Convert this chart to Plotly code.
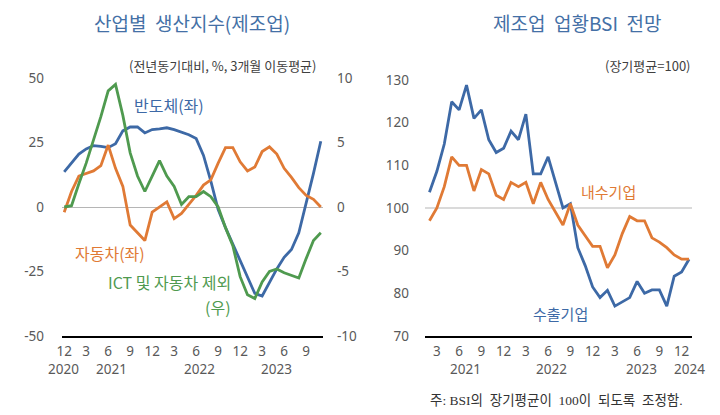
import plotly.graph_objects as go

# ---------------- Left panel data (2020-12 .. 2023-11) ----------------
months_left = [
    "2020-12", "2021-01", "2021-02", "2021-03", "2021-04", "2021-05", "2021-06",
    "2021-07", "2021-08", "2021-09", "2021-10", "2021-11", "2021-12",
    "2022-01", "2022-02", "2022-03", "2022-04", "2022-05", "2022-06",
    "2022-07", "2022-08", "2022-09", "2022-10", "2022-11", "2022-12",
    "2023-01", "2023-02", "2023-03", "2023-04", "2023-05", "2023-06",
    "2023-07", "2023-08", "2023-09", "2023-10", "2023-11",
]
semiconductor = [13.6, 17, 20.5, 22.5, 23.8, 23.5, 23, 24.5, 29.5, 31, 31, 28.7,
                 30, 30.3, 30.7, 30, 29, 28, 26.5, 20, 10, -1,
                 -8, -14.5, -21, -27.5, -33.5, -34.5, -29, -24, -19.5, -16.5,
                 -10, 1, 13, 25.5]
automobile = [-2, 6, 12, 13, 14, 16, 24, 15, 8, -7, -10, -13,
              -2, 0, 2, -4.5, -2.5, 1, 4.5, 8.5, 10.5, 17,
              23, 23, 17.5, 14, 15.5, 21.5, 23.3, 20.5, 15, 11.5,
              7.5, 4.5, 3, 0]
ex_ict_auto = [0, 0.1, 1.8, 3.4, 5.2, 7, 9, 9.5, 7.1, 4.2, 2.4, 1.2,
               2.4, 3.6, 2.4, 1.6, 0.2, 0.8, 0.8, 1.2, 0.8, 0,
               -1.6, -3, -5.4, -6.8, -7.1, -5.8, -5, -4.8, -5.1, -5.3,
               -5.5, -4, -2.6, -2]
left_tickvals = ["2020-12", "2021-03", "2021-06", "2021-09", "2021-12", "2022-03",
                 "2022-06", "2022-09", "2022-12", "2023-03", "2023-06", "2023-09"]
left_ticktext = ["12", "3", "6", "9", "12", "3", "6", "9", "12", "3", "6", "9"]
left_years = ["2020", "2021", "2022", "2023"]
left_y_vals = [-50, -25, 0, 25, 50]
left_y_text = ["-50", "-25", "0", "25", "50"]
right_y_vals = [-10, -5, 0, 5, 10]
right_y_text = ["-10", "-5", "0", "5", "10"]

# ---------------- Right panel data (2021-02 .. 2024-01) ----------------
months_right = [
    "2021-02", "2021-03", "2021-04", "2021-05", "2021-06", "2021-07",
    "2021-08", "2021-09", "2021-10", "2021-11", "2021-12",
    "2022-01", "2022-02", "2022-03", "2022-04", "2022-05", "2022-06",
    "2022-07", "2022-08", "2022-09", "2022-10", "2022-11", "2022-12",
    "2023-01", "2023-02", "2023-03", "2023-04", "2023-05", "2023-06",
    "2023-07", "2023-08", "2023-09", "2023-10", "2023-11", "2023-12",
    "2024-01",
]
exporters = [103.7, 108.6, 115, 124.9, 123, 128.8, 121, 123, 116, 113, 114,
             118, 116, 122, 108, 108, 112, 106, 100, 101, 90.7, 86.5, 81.5,
             79, 80.7, 77, 78, 79, 82.8, 80, 80.8, 80.8, 77, 84, 85, 88]
domestic = [97, 100, 105, 112, 110, 110, 104, 109, 108, 103, 102,
            106, 105, 106, 101, 106, 102, 99, 96, 101, 96, 93.5, 91,
            91, 86, 89, 94, 98, 97, 97, 93, 92, 90.7, 89, 88, 88]
right_tickvals = ["2021-03", "2021-06", "2021-09", "2021-12", "2022-03", "2022-06",
                  "2022-09", "2022-12", "2023-03", "2023-06", "2023-09", "2023-12"]
right_ticktext = ["3", "6", "9", "12", "3", "6", "9", "12", "3", "6", "9", "12"]
right_years = ["2021", "2022", "2023", "2024"]
bsi_y_vals = [70, 80, 90, 100, 110, 120, 130]

BLUE = "#3d69a6"
ORANGE = "#e07a35"
GREEN = "#4f9a4f"
TITLE = "#4470a6"
TICK = "#595959"
FONT = "Noto Sans CJK KR, Noto Sans, sans-serif"
NUMFONT = "Noto Sans, Open Sans, sans-serif"

W, H, OFF = 720, 415, 8   # page renders the figure offset by the body margin


def px_x(p):
    return (p - OFF) / W


def px_y(p):
    return 1 - (p - OFF) / H


fig = go.Figure()
fig.add_trace(go.Scatter(x=months_left, y=semiconductor, mode="lines",
                         line=dict(color=BLUE, width=2.8), xaxis="x", yaxis="y"))
fig.add_trace(go.Scatter(x=months_left, y=automobile, mode="lines",
                         line=dict(color=ORANGE, width=2.8), xaxis="x", yaxis="y"))
fig.add_trace(go.Scatter(x=months_left, y=ex_ict_auto, mode="lines",
                         line=dict(color=GREEN, width=2.8), xaxis="x", yaxis="y2"))
fig.add_trace(go.Scatter(x=months_right, y=exporters, mode="lines",
                         line=dict(color=BLUE, width=2.8), xaxis="x2", yaxis="y3"))
fig.add_trace(go.Scatter(x=months_right, y=domestic, mode="lines",
                         line=dict(color=ORANGE, width=2.8), xaxis="x2", yaxis="y3"))

tickfont = dict(family=NUMFONT, size=13.5, color=TICK)

fig.update_layout(
    width=W, height=H,
    margin=dict(l=0, r=0, t=0, b=0, autoexpand=False),
    paper_bgcolor="white", plot_bgcolor="white",
    showlegend=False,
    font=dict(family=FONT),
    xaxis=dict(domain=[px_x(62), px_x(323)], type="category", range=[-0.3, 35.3],
               tickmode="array", tickvals=left_tickvals, ticktext=left_ticktext,
               showline=True, linecolor="black", linewidth=2, showgrid=False,
               ticks="", ticklen=0, tickfont=tickfont, anchor="y", tickangle=0,
               ticklabelstandoff=2, automargin=False),
    yaxis=dict(domain=[px_y(336), px_y(78)], range=[-50, 50],
               tickmode="array", tickvals=left_y_vals, ticktext=left_y_text,
               showgrid=False, ticks="", ticklen=0,
               zeroline=True, zerolinecolor="#b5b5b5", zerolinewidth=1.2,
               tickfont=tickfont, ticklabelstandoff=17, anchor="x",
               automargin=False),
    yaxis2=dict(overlaying="y", side="right", range=[-10, 10],
                tickmode="array", tickvals=right_y_vals, ticktext=right_y_text,
                showgrid=False, zeroline=False, ticks="", ticklen=0,
                tickfont=tickfont, ticklabelstandoff=13, anchor="x",
                automargin=False),
    xaxis2=dict(domain=[px_x(425), px_x(692)], type="category", range=[-0.6, 35.4],
                tickmode="array", tickvals=right_tickvals, ticktext=right_ticktext,
                showline=True, linecolor="black", linewidth=2, showgrid=False,
                ticks="", ticklen=0, tickfont=tickfont, anchor="y3", tickangle=0,
                ticklabelstandoff=2, automargin=False),
    yaxis3=dict(domain=[px_y(336), px_y(80)], range=[70, 130],
                tickmode="array", tickvals=bsi_y_vals, showgrid=False,
                ticks="", ticklen=0,
                zeroline=False, tickfont=tickfont, ticklabelstandoff=15,
                anchor="x2", automargin=False),
)

# reference line at 100 on the right panel
fig.add_shape(type="line", xref="x2 domain", yref="y3", x0=0, x1=1, y0=100, y1=100,
              line=dict(color="#b5b5b5", width=1.2), layer="below")

ann = []
# titles
ann.append(dict(text="산업별\u00a0\u00a0생산지수(제조업)", x=px_x(192), y=px_y(22),
                font=dict(size=19, color=TITLE)))
ann.append(dict(text="제조업\u00a0\u00a0업황BSI\u00a0\u00a0전망", x=px_x(577), y=px_y(22),
                font=dict(size=19, color=TITLE)))
# subtitles
ann.append(dict(text="(전년동기대비, %, 3개월 이동평균)", x=px_x(222), y=px_y(65),
                font=dict(size=13, color="#404040")))
ann.append(dict(text="(장기평균=100)", x=px_x(648), y=px_y(65),
                font=dict(size=13, color="#404040")))
# footnote
ann.append(dict(text="주:\u00a0BSI의\u00a0\u00a0장기평균이\u00a0\u00a0100이\u00a0\u00a0되도록\u00a0\u00a0조정함.",
                x=px_x(556), y=px_y(400),
                font=dict(size=13.5, color="#333333",
                          family="Liberation Serif, Noto Sans CJK KR, serif")))
# series labels
ann.append(dict(text="반도체(좌)", x=px_x(169), y=px_y(105),
                font=dict(size=16, color=BLUE)))
ann.append(dict(text="자동차(좌)", x=px_x(110), y=px_y(253),
                font=dict(size=16, color=ORANGE)))
ann.append(dict(text="ICT 및 자동차 제외", x=px_x(233), y=px_y(282),
                xanchor="right", font=dict(size=16, color=GREEN)))
ann.append(dict(text="(우)", x=px_x(233), y=px_y(307),
                xanchor="right", font=dict(size=16, color=GREEN)))
ann.append(dict(text="내수기업", x=px_x(608), y=px_y(192),
                font=dict(size=15, color=ORANGE)))
ann.append(dict(text="수출기업", x=px_x(560), y=px_y(313),
                font=dict(size=15, color=BLUE)))

for a in ann:
    a.setdefault("xref", "paper")
    a.setdefault("yref", "paper")
    a.setdefault("xanchor", "center")
    a.setdefault("yanchor", "middle")
    a["showarrow"] = False
    fig.add_annotation(**a)

# year labels under the month ticks (positions in month-index units)
year_y = px_y(369)
for txt, xv, ax in zip(left_years + right_years,
                       [-0.1, 6.4, 18.4, 29.0, 4.9, 16.5, 28.6, 35.0],
                       ["x"] * 4 + ["x2"] * 4):
    fig.add_annotation(text=txt, x=xv, xref=ax, y=year_y, yref="paper",
                       xanchor="center", yanchor="middle", showarrow=False,
                       font=dict(family=NUMFONT, size=13.5, color=TICK))

fig.write_html("out.html")
